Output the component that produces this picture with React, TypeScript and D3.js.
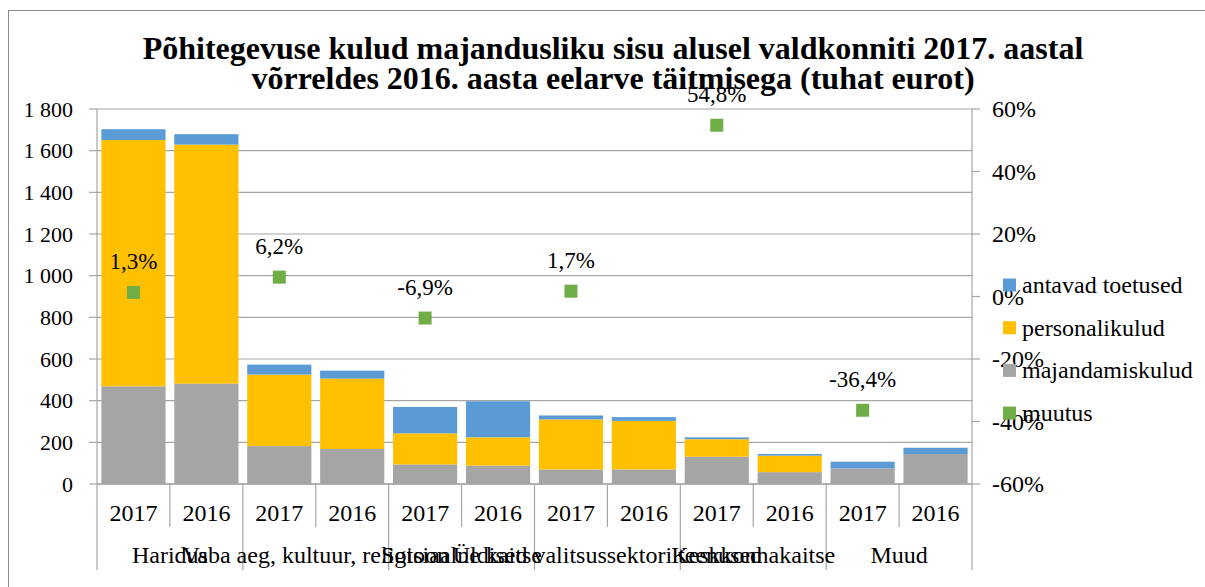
import React from "react";
import * as d3 from "d3";

const categories = [
  "Haridus",
  "Vaba aeg, kultuur, religioon",
  "Sotsiaalne kaitse",
  "Üldised valitsussektori teenused",
  "Keskkonnakaitse",
  "Muud",
];
const years = ["2017", "2016"];
// order: per category, 2017 then 2016
const majandamiskulud = [469, 482, 182, 168, 94, 88, 70, 70, 131, 57, 75, 144];
const personalikulud = [1182, 1147, 343, 338, 149, 136, 240, 233, 84, 79, 0, 0];
const antavadToetused = [52, 50, 48, 38, 127, 173, 19, 18, 9, 8, 32, 30];
const muutus = [1.3, 6.2, -6.9, 1.7, 54.8, -36.4];
const muutusLabels = ["1,3%", "6,2%", "-6,9%", "1,7%", "54,8%", "-36,4%"];
const leftTicks = [0, 200, 400, 600, 800, 1000, 1200, 1400, 1600, 1800];
const rightTicks = [-60, -40, -20, 0, 20, 40, 60];
const seriesNames = ["antavad toetused", "personalikulud", "majandamiskulud", "muutus"];
const colors = ["#5B9BD5", "#FFC000", "#A5A5A5", "#70AD47"];

const W = 1205;
const H = 587;
const left = 97;
const right = 972;
const top = 109;
const bottom = 484;
const font = "'Liberation Serif', 'Times New Roman', serif";

export default function App() {
  const keys = categories.flatMap((c, i) => years.map((y) => `${i}-${y}`));
  const x = d3.scaleBand<string>().domain(keys).range([left, right]).paddingInner(0.12).paddingOuter(0.06);
  const step = (right - left) / keys.length;
  const yL = d3.scaleLinear().domain([0, 1800]).range([bottom, top]);
  const yR = d3.scaleLinear().domain([-60, 60]).range([bottom, top]);

  const rows = keys.map((k, i) => ({
    key: k,
    majandamiskulud: majandamiskulud[i],
    personalikulud: personalikulud[i],
    antavadToetused: antavadToetused[i],
  }));
  const stack = d3.stack<any>().keys(["majandamiskulud", "personalikulud", "antavadToetused"]);
  const stacked = stack(rows);
  const stackColors = [colors[2], colors[1], colors[0]];

  const fmt = (v: number) => d3.format(",")(v).replace(",", " ");

  return (
    <svg width={W} height={H} style={{ position: "absolute", left: 0, top: 0, background: "#fff" }} fontFamily={font}>
      <rect x={8.5} y={10.5} width={W} height={H} fill="#fff" stroke="#8c8c8c" strokeWidth={1} />
      {/* gridlines */}
      {leftTicks.map((t) => (
        <line key={"g" + t} x1={left} x2={right} y1={yL(t)} y2={yL(t)} stroke="#a6a6a6" strokeWidth={1.2} />
      ))}
      {/* bars */}
      {stacked.map((s, si) =>
        s.map((d, i) => (
          <rect
            key={si + "-" + i}
            x={x(keys[i])}
            width={x.bandwidth()}
            y={yL(d[1])}
            height={Math.max(0, yL(d[0]) - yL(d[1]))}
            fill={stackColors[si]}
          />
        ))
      )}
      {/* axes */}
      <line x1={left} x2={left} y1={top} y2={570} stroke="#a6a6a6" strokeWidth={1.2} />
      <line x1={right} x2={right} y1={top} y2={570} stroke="#a6a6a6" strokeWidth={1.2} />
      <line x1={left} x2={right} y1={bottom} y2={bottom} stroke="#a6a6a6" strokeWidth={1.5} />
      {leftTicks.map((t) => (
        <g key={"l" + t}>
          <line x1={left - 8} x2={left} y1={yL(t)} y2={yL(t)} stroke="#a6a6a6" strokeWidth={1.2} />
          <text x={73} y={yL(t)} dy="0.35em" textAnchor="end" fontSize={22} fill="#000">
            {fmt(t)}
          </text>
        </g>
      ))}
      {rightTicks.map((t) => (
        <g key={"r" + t}>
          <line x1={right} x2={right + 8} y1={yR(t)} y2={yR(t)} stroke="#a6a6a6" strokeWidth={1.2} />
          <text x={992} y={yR(t)} dy="0.35em" textAnchor="start" fontSize={24} fill="#000">
            {t + "%"}
          </text>
        </g>
      ))}
      {/* x axis separators */}
      {keys.map((k, i) =>
        i > 0 ? (
          <line
            key={"s" + k}
            x1={left + step * i}
            x2={left + step * i}
            y1={bottom}
            y2={i % 2 === 0 ? 570 : 527}
            stroke="#a6a6a6"
            strokeWidth={1.2}
          />
        ) : null
      )}
      {keys.map((k, i) => (
        <text key={"y" + k} x={(x(k) as number) + x.bandwidth() / 2} y={521} textAnchor="middle" fontSize={24} fill="#000">
          {years[i % 2]}
        </text>
      ))}
      {categories.map((c, i) => (
        <text key={"c" + i} x={left + step * (2 * i + 1)} y={563} textAnchor="middle" fontSize={24} fill="#000">
          {c}
        </text>
      ))}
      {/* title */}
      <text x={613} y={59} textAnchor="middle" fontSize={32} fontWeight="bold" fill="#000">
        Põhitegevuse kulud majandusliku sisu alusel valdkonniti 2017. aastal
      </text>
      <text x={613} y={89} textAnchor="middle" fontSize={32} fontWeight="bold" fill="#000">
        võrreldes 2016. aasta eelarve täitmisega (tuhat eurot)
      </text>
      {/* scatter */}
      {muutus.map((v, i) => {
        const cx = (x(`${i}-2017`) as number) + x.bandwidth() / 2;
        const cy = yR(v);
        return (
          <g key={"m" + i}>
            <rect x={cx - 6.5} y={cy - 6.5} width={13} height={13} fill={colors[3]} />
            <text x={cx} y={cy - 23.5} textAnchor="middle" fontSize={23} fill="#000">
              {muutusLabels[i]}
            </text>
          </g>
        );
      })}
      {/* legend */}
      {seriesNames.map((n, i) => {
        const cy = 285 + i * 42.7;
        return (
          <g key={"lg" + i}>
            <rect x={1003} y={cy - 6.5} width={13} height={13} fill={colors[i]} />
            <text x={1022} y={cy} dy="0.33em" fontSize={24} fill="#000">
              {n}
            </text>
          </g>
        );
      })}
    </svg>
  );
}
